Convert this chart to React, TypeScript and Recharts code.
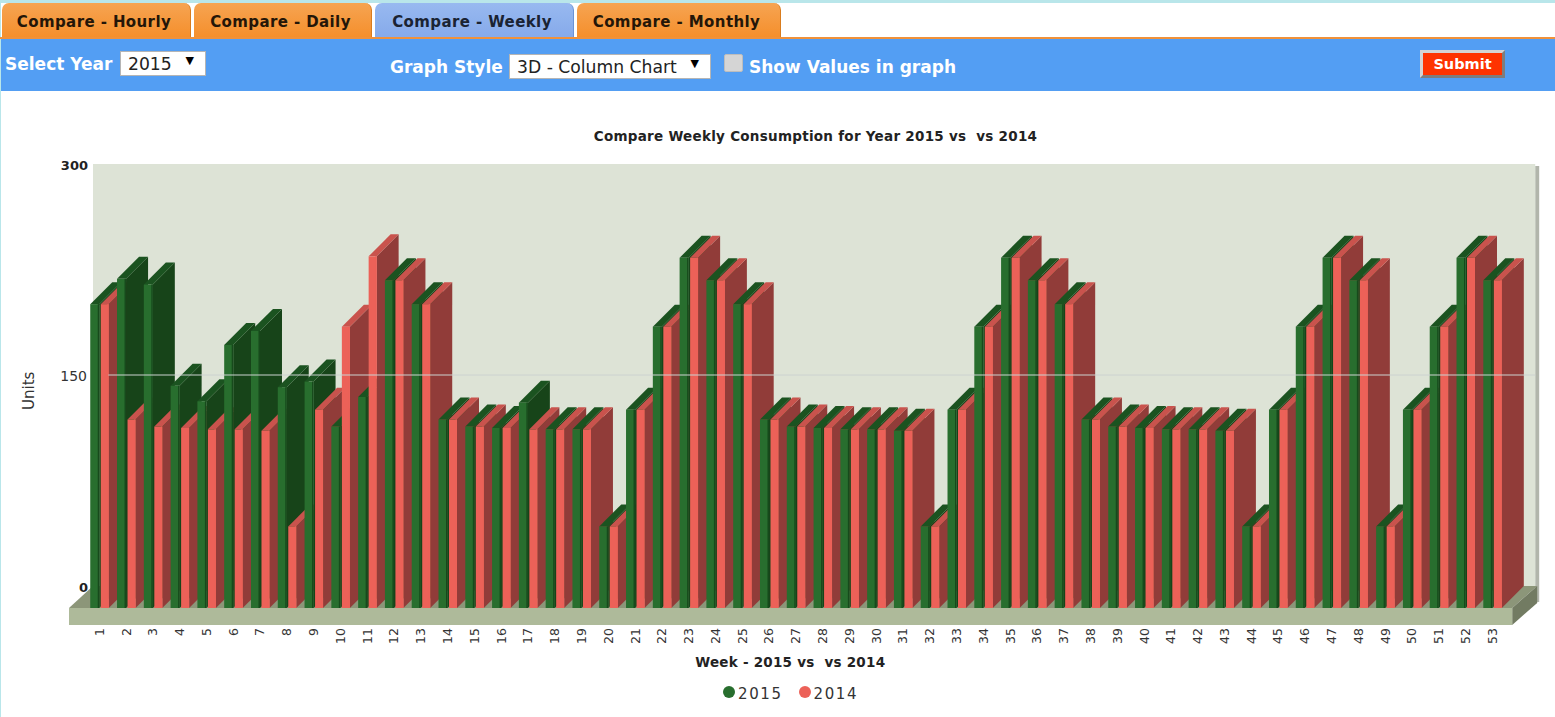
// App.tsx
import React from "react";
import { BarChart, Bar, XAxis, YAxis, ReferenceArea, ReferenceLine, Legend } from "recharts";

const weeks = [
  1, 2, 3, 4, 5, 6, 7, 8, 9, 10, 11, 12, 13, 14, 15, 16, 17, 18, 19, 20, 21, 22, 23, 24, 25, 26, 27,
  28, 29, 30, 31, 32, 33, 34, 35, 36, 37, 38, 39, 40, 41, 42, 43, 44, 45, 46, 47, 48, 49, 50, 51, 52, 53,
];
const units2015 = [
  216, 234, 230, 158, 147, 187, 197, 157, 161, 129, 150, 233, 216, 134, 129, 128, 146, 127, 127, 58, 141, 200, 249, 233, 216, 134, 129,
  128, 127, 127, 126, 58, 141, 200, 249, 233, 216, 134, 129, 128, 127, 127, 126, 58, 141, 200, 249, 233, 58, 141, 200, 249, 233,
];
const units2014 = [
  216, 134, 129, 128, 127, 127, 126, 58, 141, 200, 250, 233, 216, 134, 129, 128, 127, 127, 127, 58, 141, 200, 249, 233, 216, 134, 129,
  128, 127, 127, 126, 58, 141, 200, 249, 233, 216, 134, 129, 128, 127, 127, 126, 58, 141, 200, 249, 233, 58, 141, 200, 249, 233,
];
const yTicks = [0, 150, 300];
const tabs = ["Compare - Hourly", "Compare - Daily", "Compare - Weekly", "Compare - Monthly"];

// one row per column, in draw order, so each week paints over the one before it
const columns = weeks.flatMap((w, i) => [
  { pos: w - 0.196, units: units2015[i], series: "2015" },
  { pos: w + 0.196, units: units2014[i], series: "2014" },
]);

const DEPTH = 22;
const FONT = "'DejaVu Sans', Verdana, sans-serif";

const COLORS: Record<string, { front: string; edge: string; side: string; top: string }> = {
  "2015": { front: "#286e2e", edge: "#174a1c", side: "#174419", top: "#1b5320" },
  "2014": { front: "#ec6158", edge: "#ec6158", side: "#913c39", top: "#c9534d" },
};

function Column3D(props: any) {
  const { x, y, height, payload } = props;
  const c = COLORS[payload.series];
  const width = payload.series === "2014" ? props.width - 1 : props.width;
  const r = x + width;
  const b = y + height;
  return (
    <g>
      <polygon points={`${r},${y} ${r + DEPTH},${y - DEPTH} ${r + DEPTH},${b - DEPTH} ${r},${b}`} fill={c.side} />
      <polygon points={`${x},${y} ${x + DEPTH},${y - DEPTH} ${r + DEPTH},${y - DEPTH} ${r},${y}`} fill={c.top} />
      <rect x={x} y={y} width={width} height={height} fill={c.front} />
      <rect x={r - 1.5} y={y} width={1.5} height={height} fill={c.edge} />
    </g>
  );
}

// back wall and floor slab of the 3D box, hung on the plot area
function Box3D(props: any) {
  const { x, y, width, height } = props;
  const r = x + width;
  const b = y + height;
  const wallL = x + 6.65;
  const wallR = r + 29;
  const floorL = x - 17.35;
  const floorR = r + 6;
  const slab = 17;
  return (
    <g>
      <rect x={wallR} y={y - DEPTH + 2} width={4} height={height + 14} fill="#b1b5ab" />
      <rect x={wallL} y={y - DEPTH} width={wallR - wallL} height={height} fill="#dde3d6" />
      <polygon points={`${floorL},${b} ${wallL},${b - DEPTH} ${wallR + 2},${b - DEPTH} ${floorR},${b}`} fill="#8c9679" />
      <polygon
        points={`${floorR},${b} ${wallR + 2},${b - DEPTH} ${wallR + 2},${b - DEPTH + slab} ${floorR},${b + slab}`}
        fill="#727b62"
      />
      <rect x={floorL} y={b} width={floorR - floorL} height={slab} fill="#aeba9a" />
    </g>
  );
}

function GridLine(props: any) {
  const { x1, x2, y1 } = props;
  return <line x1={x1 + 22} x2={x2 + 29} y1={y1 - DEPTH} y2={y1 - DEPTH} stroke="#ccd2d0" strokeWidth={1} />;
}

function WeekTick(props: any) {
  const { x, y, payload } = props;
  const tx = x - 0.5;
  const ty = y + 14;
  return (
    <text
      x={tx}
      y={ty}
      transform={`rotate(-90 ${tx} ${ty})`}
      textAnchor="end"
      dominantBaseline="central"
      fontFamily={FONT}
      fontSize={12.5}
      fill="#333"
    >
      {payload.value}
    </text>
  );
}

function UnitTick(props: any) {
  const { y, payload } = props;
  const v = payload.value;
  return (
    <text
      x={v === 150 ? 87 : 88}
      y={y - DEPTH + 1}
      textAnchor="end"
      dominantBaseline="central"
      fontFamily={FONT}
      fontSize={v === 150 ? 14 : 13}
      fontWeight={v === 150 ? "normal" : "bold"}
      fill={v === 150 ? "#333" : "#222"}
    >
      {v}
    </text>
  );
}

function ChartLegend() {
  return (
    <div style={{ display: "flex", fontFamily: FONT, fontSize: 15, color: "#333", letterSpacing: 1.6 }}>
      {["2015", "2014"].map((s) => (
        <div key={s} style={{ display: "flex", alignItems: "center", marginRight: 16 }}>
          <span
            style={{
              width: 12,
              height: 12,
              borderRadius: 6,
              marginRight: 3,
              marginTop: -4,
              background: COLORS[s].front,
            }}
          />
          {s}
        </div>
      ))}
    </div>
  );
}

const tabBoxes = [
  { left: 2, width: 189 },
  { left: 194, width: 178 },
  { left: 375, width: 199 },
  { left: 577, width: 204 },
];

function Header() {
  const white: React.CSSProperties = {
    position: "absolute",
    color: "#fff",
    fontFamily: FONT,
    fontWeight: "bold",
    fontSize: 17,
    whiteSpace: "nowrap",
    lineHeight: "20px",
  };
  const select: React.CSSProperties = {
    position: "absolute",
    boxSizing: "border-box",
    background: "#fff",
    border: "1px solid #b5b5b5",
    color: "#222",
    fontFamily: FONT,
    fontSize: 17.2,
    lineHeight: "24px",
    paddingLeft: 7,
  };
  const arrow: React.CSSProperties = { position: "absolute", right: 11, top: -3, fontSize: 11, color: "#000" };
  return (
    <>
      <div style={{ position: "absolute", left: 0, top: 0, width: 1555, height: 3, background: "#b9e6ea" }} />
      <div style={{ position: "absolute", left: 0, top: 0, width: 1, height: 717, background: "#b9e6ea" }} />
      {tabs.map((t, i) => (
        <div
          key={t}
          style={{
            position: "absolute",
            top: 3,
            height: 34,
            left: tabBoxes[i].left,
            width: tabBoxes[i].width,
            paddingRight: 4,
            boxSizing: "border-box",
            borderRadius: "7px 7px 0 0",
            borderRight: `1px solid ${i === 2 ? "#6a93d6" : "#d97c1e"}`,
            background: i === 2 ? "linear-gradient(#98b9f0,#86aaea)" : "linear-gradient(#f6a452,#f58f2c)",
            color: i === 2 ? "#1a2333" : "#241608",
            fontFamily: FONT,
            fontWeight: "bold",
            fontSize: 15,
            letterSpacing: 0.4,
            textAlign: "center",
            lineHeight: "38px",
            whiteSpace: "nowrap",
          }}
        >
          {t}
        </div>
      ))}
      <div style={{ position: "absolute", left: 0, top: 37, width: 1555, height: 2, background: "#f0913a" }} />
      <div style={{ position: "absolute", left: 1, top: 39, width: 1554, height: 52, background: "#539ef3" }} />
      <div style={{ ...white, left: 5, top: 54 }}>Select Year</div>
      <div style={{ ...select, left: 120, top: 51, width: 86, height: 25 }}>
        2015<span style={arrow}>▼</span>
      </div>
      <div style={{ ...white, left: 390, top: 57 }}>Graph Style</div>
      <div style={{ ...select, left: 509, top: 54, width: 202, height: 25 }}>
        3D - Column Chart<span style={arrow}>▼</span>
      </div>
      <div
        style={{
          position: "absolute",
          left: 724,
          top: 54,
          width: 19,
          height: 18,
          boxSizing: "border-box",
          borderRadius: 2,
          background: "#d5d5d5",
          border: "1px solid #bdbdbd",
        }}
      />
      <div style={{ ...white, left: 749, top: 57 }}>Show Values in graph</div>
      <div
        style={{
          position: "absolute",
          left: 1420,
          top: 50,
          width: 85,
          height: 28,
          boxSizing: "border-box",
          background: "#fe3300",
          borderTop: "3px solid #d4d4d4",
          borderLeft: "3px solid #d4d4d4",
          borderRight: "3px solid #7d7d7d",
          borderBottom: "3px solid #7d7d7d",
          color: "#fff",
          fontFamily: FONT,
          fontWeight: "bold",
          fontSize: 14.5,
          textAlign: "center",
          lineHeight: "22px",
        }}
      >
        Submit
      </div>
    </>
  );
}

export default function App() {
  return (
    <div style={{ position: "absolute", left: 0, top: 0, width: 1555, height: 717, background: "#fff", overflow: "hidden" }}>
      <Header />
      <div style={{ position: "absolute", left: 0, top: 0 }}>
        <BarChart
          width={1555}
          height={717}
          data={columns}
          barSize={9}
          margin={{ top: 186, right: 48.8, bottom: 59, left: 0.35 }}
        >
          <text
            x={815.5}
            y={136}
            textAnchor="middle"
            dominantBaseline="central"
            fontFamily={FONT}
            fontSize={13.5}
            letterSpacing={0.27}
            fontWeight="bold"
            fill="#222"
          >
            {"Compare Weekly Consumption for Year 2015 vs \u00A0vs 2014"}
          </text>
          <XAxis
            dataKey="pos"
            type="number"
            domain={[0.5, 53.5]}
            ticks={weeks}
            interval={0}
            height={50}
            axisLine={false}
            tickLine={false}
            tickMargin={0}
            tick={<WeekTick />}
            label={{
              value: "Week - 2015 vs \u00A0vs 2014",
              position: "insideBottom",
              offset: -9,
              dx: -6,
              fontFamily: FONT,
              fontSize: 13.5,
              letterSpacing: 0.25,
              fontWeight: "bold",
              fill: "#222",
            }}
          />
          <YAxis
            domain={[0, 300]}
            ticks={yTicks}
            width={86}
            axisLine={false}
            tickLine={false}
            tick={<UnitTick />}
            label={{ value: "Units", angle: -90, position: "insideLeft", offset: 28, dy: 13, fontFamily: FONT, fontSize: 15, fill: "#333" }}
          />
          <ReferenceArea y1={0} y2={300} ifOverflow="visible" shape={<Box3D />} />
          <ReferenceLine y={150} ifOverflow="visible" shape={<GridLine />} />
          <Bar dataKey="units" isAnimationActive={false} shape={<Column3D />} />
          <Legend
            verticalAlign="middle"
            align="center"
            content={<ChartLegend />}
            wrapperStyle={{ top: 685, left: 723, width: 170, height: 20 }}
          />
        </BarChart>
      </div>
    </div>
  );
}
